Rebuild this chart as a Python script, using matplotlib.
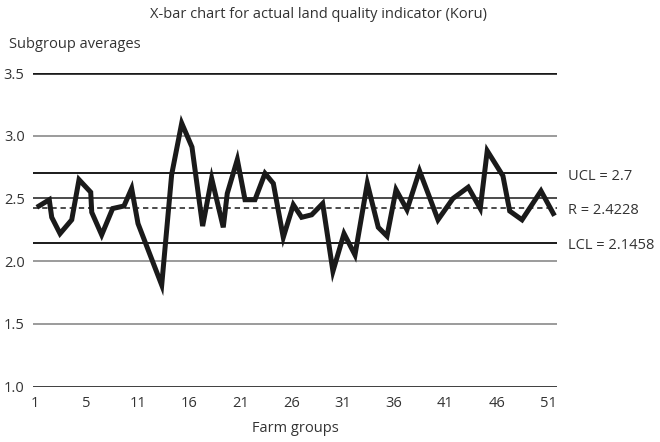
import matplotlib
matplotlib.use("Agg")
import matplotlib.pyplot as plt

# Data (farm group position, subgroup average)
farm_pos = [1.39, 2.39, 2.63, 3.44, 4.58, 5.29, 6.43, 6.53, 7.50, 8.57, 9.67, 10.42,
            11.04, 13.35, 14.32, 15.30, 16.30, 17.34, 18.22, 19.35, 19.74, 20.72,
            21.47, 22.44, 23.42, 24.23, 25.20, 26.18, 26.99, 27.97, 29.04, 30.04,
            31.12, 32.19, 33.39, 34.46, 35.31, 36.19, 37.26, 38.48, 39.50, 40.28,
            41.74, 43.23, 44.40, 45.08, 46.61, 47.27, 48.47, 50.32, 51.52]
subgroup_avg = [2.44, 2.49, 2.35, 2.22, 2.33, 2.65, 2.55, 2.39, 2.21, 2.42, 2.44, 2.58,
                2.30, 1.81, 2.69, 3.10, 2.91, 2.28, 2.66, 2.27, 2.54, 2.81,
                2.49, 2.49, 2.70, 2.62, 2.19, 2.45, 2.35, 2.37, 2.46, 1.92,
                2.22, 2.05, 2.62, 2.27, 2.20, 2.57, 2.41, 2.72, 2.50, 2.33,
                2.50, 2.59, 2.42, 2.88, 2.68, 2.40, 2.33, 2.56, 2.38]

ucl = 2.7
center = 2.4228
lcl = 2.1458

xtick_pos = [1, 6, 11, 16, 21, 26, 31, 36, 41, 46, 51]
xtick_labels = ["1", "5", "11", "16", "21", "26", "31", "36", "41", "46", "51"]
ytick_vals = [1.0, 1.5, 2.0, 2.5, 3.0, 3.5]
ytick_labels = ["1.0", "1.5", "2.0", "2.5", "3.0", "3.5"]

plt.rcParams['font.family'] = ['Open Sans', 'DejaVu Sans']
TXT = '#333333'
FS = 10.5

fig = plt.figure(figsize=(6.6, 4.42), dpi=100)
ax = fig.add_axes([33/660, 1 - 386.7/442, 524/660, (386.7 - 73)/442])

# horizontal grid lines
for v in ytick_vals:
    if v in (1.0, 3.5):
        ax.axhline(v, color='#1a1a1a', lw=1.9, zorder=1)
    elif v == 2.5:
        ax.axhline(v, color='#1a1a1a', lw=1.1, zorder=1)
    else:
        ax.axhline(v, color='#8a8a8a', lw=1.2, zorder=1)

ax.axhline(ucl, color='#1a1a1a', lw=1.4, zorder=1)
ax.axhline(lcl, color='#1a1a1a', lw=1.4, zorder=1)
ax.axhline(center, color='#1a1a1a', lw=1.1, ls=(0, (3.5, 2.5)), zorder=1)

ax.plot(farm_pos, subgroup_avg, color='#1a1a1a', lw=3.6, solid_joinstyle='miter', zorder=3)

ax.set_xlim(0.805, 51.88)
ax.set_ylim(1.0, 3.5)
for s in ax.spines.values():
    s.set_visible(False)
ax.set_xticks(xtick_pos)
ax.set_xticklabels(xtick_labels)
ax.set_yticks(ytick_vals)
ax.set_yticklabels(ytick_labels)
ax.tick_params(axis='both', length=0, labelsize=FS, colors=TXT)
ax.tick_params(axis='x', pad=6.5)
ax.tick_params(axis='y', pad=6)

# right-hand labels
for val, lab in [(ucl, "UCL = 2.7"), (center, "R = 2.4228"), (lcl, "LCL = 2.1458")]:
    ax.annotate(lab, xy=(1.0, val), xycoords=('axes fraction', 'data'),
                xytext=(8, -2), textcoords='offset points',
                ha='left', va='center', fontsize=FS, color=TXT)

fig.text(318/660, 1 - 15/442, "X-bar chart for actual land quality indicator (Koru)",
         ha='center', va='center', fontsize=FS, color=TXT)
fig.text(9/660, 1 - 44/442, "Subgroup averages", ha='left', va='center',
         fontsize=FS, color=TXT)
fig.text(295/660, 1 - 428/442, "Farm groups", ha='center', va='center',
         fontsize=FS, color=TXT)

fig.savefig("out.png", dpi=100)
